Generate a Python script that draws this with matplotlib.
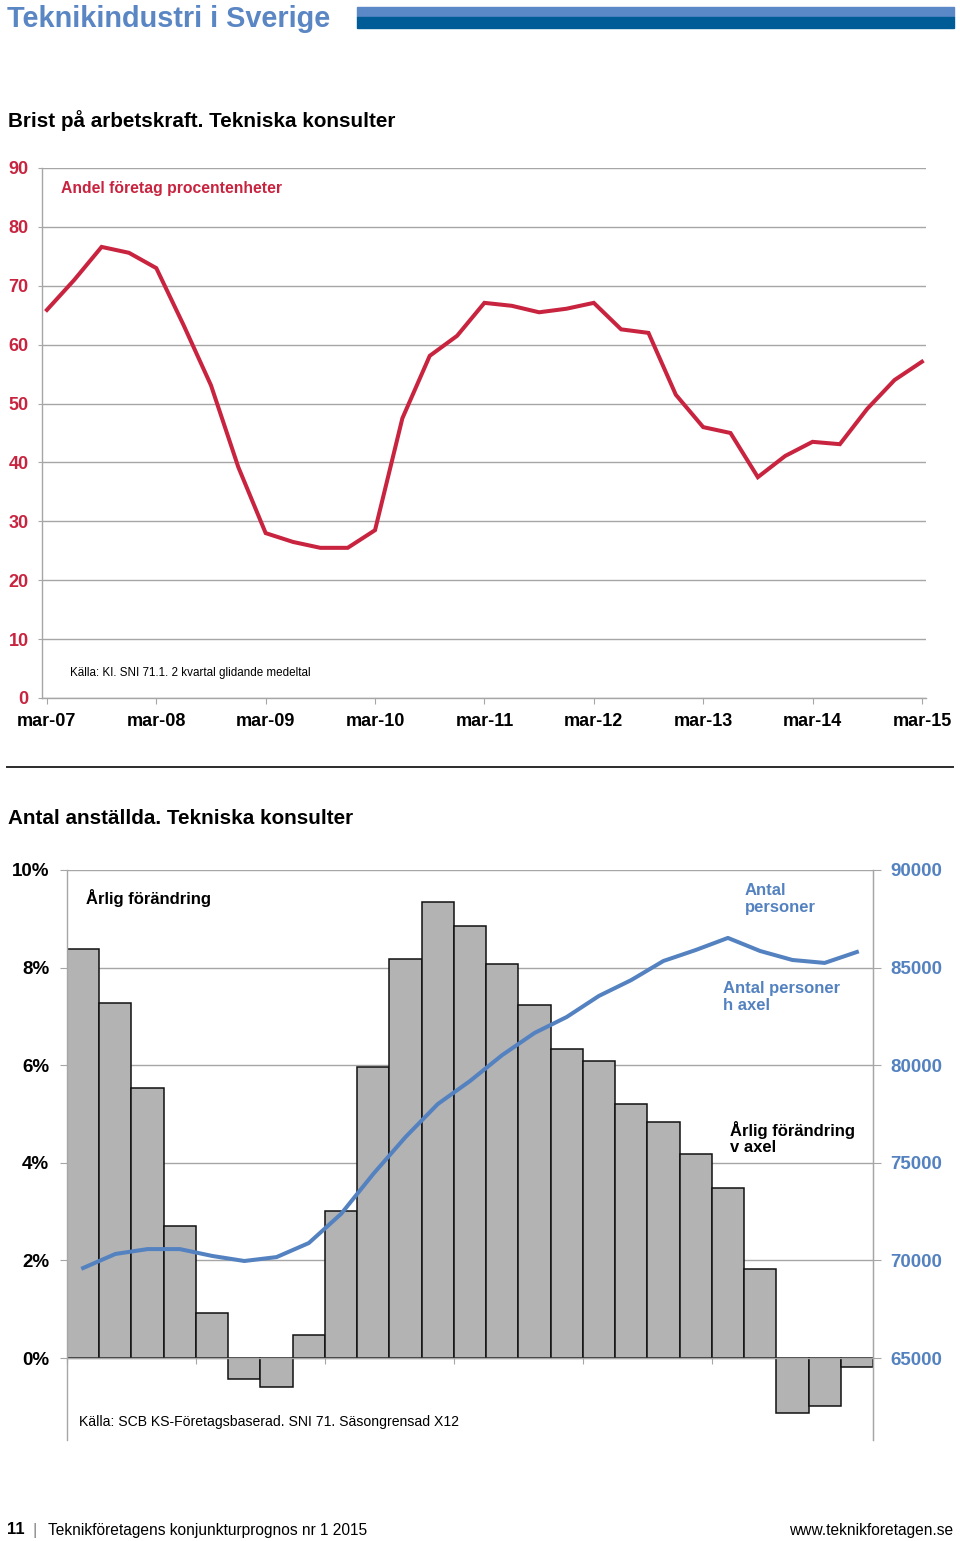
import matplotlib
matplotlib.use("Agg")
import matplotlib.pyplot as plt
from matplotlib.patches import Rectangle
from matplotlib.lines import Line2D

W, H = 960, 1541

# --- data -------------------------------------------------------------
# Brist på arbetskraft, andel företag (kvartal mar-07 .. mar-15)
brist = [65.9, 71.0, 76.6, 75.6, 73.0, 63.3, 53.1, 39.2, 28.0, 26.5, 25.5,
         25.5, 28.5, 47.5, 58.1, 61.5, 67.1, 66.6, 65.5, 66.1, 67.1, 62.6,
         62.0, 51.5, 46.0, 45.0, 37.5, 41.1, 43.5, 43.1, 49.1, 54.0, 57.1]
year_labels = ['mar-07', 'mar-08', 'mar-09', 'mar-10', 'mar-11',
               'mar-12', 'mar-13', 'mar-14', 'mar-15']

# Antal anställda: årlig förändring (%) och antal personer
arlig = [8.38, 7.27, 5.53, 2.70, 0.92, -0.43, -0.59, 0.47, 3.01, 5.96,
         8.18, 9.34, 8.85, 8.07, 7.23, 6.33, 6.09, 5.20, 4.84, 4.18,
         3.48, 1.82, -1.13, -0.98, -0.18]
personer = [69610, 70330, 70580, 70580, 70230, 69970, 70170, 70890, 72380,
            74430, 76320, 78010, 79190, 80520, 81650, 82470, 83550, 84360,
            85340, 85900, 86520, 85850, 85390, 85240, 85800]
pct_ticks = [0, 2, 4, 6, 8, 10]
pers_ticks = [65000, 70000, 75000, 80000, 85000, 90000]

RED = "#c8243f"
BLUE = "#5482c0"
GRID = "#a6a6a6"

plt.rcParams['font.family'] = "Liberation Sans"

fig = plt.figure(figsize=(W / 100, H / 100), dpi=100)


def ftext(x, y, s, **kw):
    kw.setdefault('va', 'center')
    return fig.text(x / W, 1 - y / H, s, **kw)


def axrect(left, top, right, bottom):
    return [left / W, 1 - bottom / H, (right - left) / W, (bottom - top) / H]


# --- header -----------------------------------------------------------
ftext(7, 19, "Teknikindustri i Sverige", fontsize=20.8, fontweight='bold',
      color="#5a86c4")
fig.patches.append(Rectangle((357 / W, 1 - 17 / H), (954 - 357) / W, 10 / H,
                             transform=fig.transFigure, color="#5b88c6"))
fig.patches.append(Rectangle((357 / W, 1 - 28 / H), (954 - 357) / W, 11 / H,
                             transform=fig.transFigure, color="#005c97"))

# --- chart 1 ----------------------------------------------------------
ftext(8, 121, "Brist på arbetskraft. Tekniska konsulter", fontsize=14.9,
      fontweight='bold')

ax1 = fig.add_axes(axrect(42, 168, 926, 698))
x1 = list(range(len(brist)))
ax1.plot(x1, brist, color=RED, lw=2.9, solid_joinstyle='miter')
ax1.set_xlim(-0.18, 32.15)
ax1.set_ylim(0, 90)
ax1.set_yticks(range(0, 91, 10))
ax1.set_xticks(range(0, 33, 4))
ax1.set_xticklabels(year_labels)
ax1.grid(axis='y', color=GRID, lw=1.0)
ax1.set_axisbelow(True)
for s in ['top', 'right']:
    ax1.spines[s].set_visible(False)
for s in ['left', 'bottom']:
    ax1.spines[s].set_color(GRID)
    ax1.spines[s].set_linewidth(1.0)
ax1.tick_params(axis='y', length=3, color=GRID, pad=6.5, labelsize=13,
                labelcolor=RED)
ax1.tick_params(axis='x', length=4, color=GRID, pad=7, labelsize=13)
for lab in ax1.get_yticklabels() + ax1.get_xticklabels():
    lab.set_fontweight('bold')

ftext(61, 188, "Andel företag procentenheter", fontsize=11.3,
      fontweight='bold', color=RED)
ftext(70, 673, "Källa: KI. SNI 71.1. 2 kvartal glidande medeltal",
      fontsize=8.4)

# separator
fig.add_artist(Line2D([7 / W, 953 / W], [1 - 767 / H, 1 - 767 / H],
                      transform=fig.transFigure, color="#2b2b2b", lw=1.4))

# --- chart 2 ----------------------------------------------------------
ftext(8, 818, "Antal anställda. Tekniska konsulter", fontsize=14.9,
      fontweight='bold')

ax2 = fig.add_axes(axrect(67, 870, 873, 1440))
x2 = list(range(len(arlig)))
ax2.bar(x2, arlig, width=1.0, color="#b3b3b3", edgecolor="#111111",
        linewidth=1.1, zorder=2)
ax2.set_xlim(-0.5, len(arlig) - 0.5)
ax2.set_ylim(-1.68, 10)
ax2.set_yticks(pct_ticks)
ax2.set_yticklabels([f"{v}%" for v in pct_ticks])
ax2.grid(axis='y', color=GRID, lw=1.0, zorder=0)
ax2.set_axisbelow(True)
ax2.set_xticks([i - 0.5 for i in range(0, len(arlig) + 1, 4)])
ax2.set_xticklabels([])
ax2.spines['top'].set_visible(False)
ax2.spines['bottom'].set_position(('data', 0))
for s in ['left', 'right', 'bottom']:
    ax2.spines[s].set_color(GRID)
    ax2.spines[s].set_linewidth(1.0)
ax2.tick_params(axis='x', length=4, color=GRID)
ax2.tick_params(axis='y', length=5, color=GRID, pad=7.7, labelsize=13.5)
for lab in ax2.get_yticklabels():
    lab.set_fontweight('bold')

ax3 = ax2.twinx()
ax3.plot(x2, personer, color=BLUE, lw=2.9, zorder=3)
ax3.set_ylim(65000 - 1.68 * 2500, 90000)
ax3.set_yticks(pers_ticks)
for s in ['top', 'left', 'bottom']:
    ax3.spines[s].set_visible(False)
ax3.spines['right'].set_color(GRID)
ax3.tick_params(axis='y', length=6, color=GRID, pad=6.4, labelsize=13.5,
                labelcolor=BLUE)
for lab in ax3.get_yticklabels():
    lab.set_fontweight('bold')

ftext(86, 898, "Årlig förändring", fontsize=12, fontweight='bold')
ftext(745, 899, "Antal\npersoner", fontsize=12, fontweight='bold',
      color=BLUE, linespacing=1.1)
ftext(723, 997, "Antal personer\nh axel", fontsize=12, fontweight='bold',
      color=BLUE, linespacing=1.1)
ftext(730, 1138, "Årlig förändring\nv axel", fontsize=12, fontweight='bold',
      linespacing=1.1)
ftext(79, 1422, "Källa: SCB KS-Företagsbaserad. SNI 71. Säsongrensad X12",
      fontsize=10.1)

# --- footer -----------------------------------------------------------
ftext(7, 1530, "11", fontsize=12, fontweight='bold')
ftext(33, 1530, "|", fontsize=12, color="#888888")
ftext(48, 1530, "Teknikföretagens konjunkturprognos nr 1 2015", fontsize=11.2)
ftext(953, 1530, "www.teknikforetagen.se", fontsize=11.2, ha='right')

fig.savefig("out.png", dpi=100)
